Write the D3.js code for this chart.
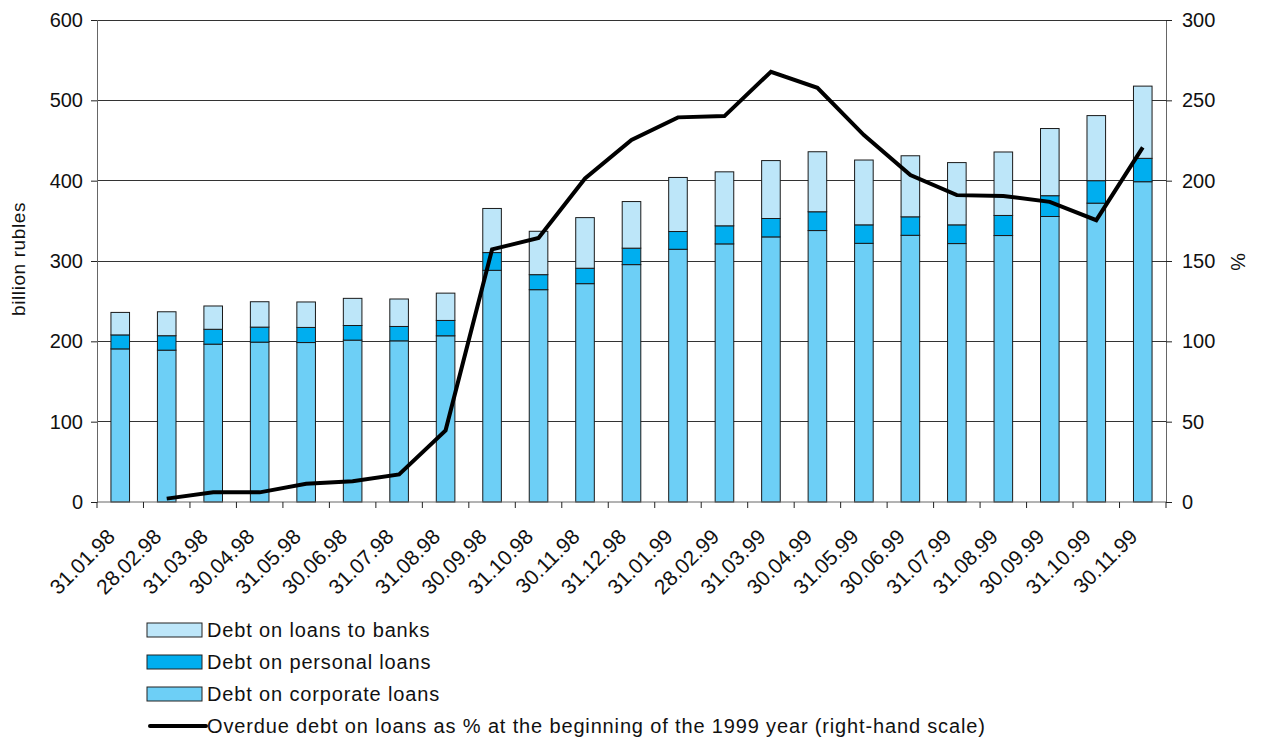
<!DOCTYPE html>
<html><head><meta charset="utf-8">
<script src="https://cdn.jsdelivr.net/npm/d3@7"></script>
<style>body{margin:0;background:#fff}svg{display:block;font-family:"Liberation Sans",Arial,sans-serif}</style>
</head><body><svg id="c" width="1262" height="740"></svg>
<script>
const categories = ["31.01.98","28.02.98","31.03.98","30.04.98","31.05.98","30.06.98","31.07.98","31.08.98","30.09.98","31.10.98","30.11.98","31.12.98","31.01.99","28.02.99","31.03.99","30.04.99","31.05.99","30.06.99","31.07.99","31.08.99","30.09.99","31.10.99","30.11.99"];
const corporate = [190.6,189,196.5,199,198.5,201.5,200.6,206.9,288.4,264.3,271.8,295.5,314.6,321.3,330,337.9,322,332,321.7,331.7,355.4,372,398.7];
const personal  = [17.4,18,18.5,18.7,18.8,18.2,17.9,19.1,22.1,18.7,19.2,20.5,22.1,22.5,22.9,23.4,23,23,23.3,25,25.9,28,29.1];
const banks     = [28,29.8,29,31.6,31.7,33.8,34.2,34,54.9,54,63,58,67.3,67.2,72.1,74.7,80.7,76,77.5,79,83.6,81,89.9];
const overdue   = [null,2.1,6.0,6.0,11.4,12.9,17.2,44.6,157.2,164.4,201.4,225.3,239.4,240.2,267.8,257.8,228.4,203.5,191,190.5,186.8,175.4,220.7];
const leftTicks = [0,100,200,300,400,500,600];
const rightTicks = [0,50,100,150,200,250,300];
const seriesNames = ["Debt on loans to banks","Debt on personal loans","Debt on corporate loans","Overdue debt on loans as % at the beginning of the 1999 year (right-hand scale)"];

const colors = {corporate:"#6dcff6", personal:"#00aeef", banks:"#bde6f9"};
const svg = d3.select("#c");
const L=97,R=1166,T=20,B=502;
const x = d3.scaleBand().domain(categories).range([L,R]).paddingInner(0.6).paddingOuter(0.3);
const yL = d3.scaleLinear().domain([0,600]).range([B,T]);
const yR = d3.scaleLinear().domain([0,300]).range([B,T]);

// gridlines
svg.append("g").selectAll("line").data(leftTicks.slice(1)).join("line")
  .attr("x1",L).attr("x2",R).attr("y1",d=>yL(d)).attr("y2",d=>yL(d))
  .attr("stroke","#333").attr("stroke-width",1).attr("shape-rendering","crispEdges");

// stacked bars
const rows = categories.map((c,i)=>({cat:c,corporate:corporate[i],personal:personal[i],banks:banks[i]}));
const stack = d3.stack().keys(["corporate","personal","banks"])(rows);
svg.append("g").selectAll("g").data(stack).join("g").attr("fill",d=>colors[d.key])
  .selectAll("rect").data(d=>d).join("rect")
  .attr("x",d=>x(d.data.cat)).attr("width",x.bandwidth())
  .attr("y",d=>yL(d[1])).attr("height",d=>yL(d[0])-yL(d[1]))
  .attr("stroke","#1a1a1a").attr("stroke-width",1);

// axes
const fs = "20px";
const gl = svg.append("g").attr("transform",`translate(${L},0)`)
  .call(d3.axisLeft(yL).tickValues(leftTicks).tickSize(6).tickPadding(8));
const gr = svg.append("g").attr("transform",`translate(${R},0)`)
  .call(d3.axisRight(yR).tickValues(rightTicks).tickSize(6).tickPadding(10));
[gl,gr].forEach(g=>{g.selectAll("text").attr("font-size",fs).attr("fill","#111").attr("font-family","Liberation Sans, Arial");
  g.select(".domain").attr("stroke","#666"); g.selectAll(".tick line").attr("stroke","#222");});

const boundaries = d3.range(categories.length+1).map(i=>L+ (R-L)*i/categories.length);
svg.append("line").attr("x1",L).attr("x2",R).attr("y1",B).attr("y2",B).attr("stroke","#666");
svg.append("g").selectAll("line").data(boundaries).join("line")
  .attr("x1",d=>d).attr("x2",d=>d).attr("y1",B).attr("y2",B+6).attr("stroke","#222");
svg.append("g").selectAll("text").data(categories).join("text")
  .attr("transform",d=>`translate(${x(d)+x.bandwidth()/2-4},${B+36}) rotate(-45)`)
  .attr("text-anchor","end").attr("font-size","21px").attr("fill","#111").text(d=>d);

// line
const line = d3.line().defined(d=>d.v!==null).x(d=>x(d.c)+x.bandwidth()/2).y(d=>yR(d.v));
svg.append("path").datum(categories.map((c,i)=>({c,v:overdue[i]})))
  .attr("d",line).attr("fill","none").attr("stroke","#000").attr("stroke-width",4).attr("stroke-linejoin","miter");

// axis titles
svg.append("text").attr("transform","translate(25,259) rotate(-90)").attr("text-anchor","middle")
  .attr("font-size","19px").attr("letter-spacing","0.6px").attr("fill","#111").text("billion rubles");
svg.append("text").attr("transform","translate(1231,262) rotate(90)").attr("text-anchor","middle")
  .attr("font-size","20px").attr("fill","#111").text("%");

// legend
const lg = svg.append("g");
const legFill = [colors.banks,colors.personal,colors.corporate];
seriesNames.forEach((n,i)=>{
  const cy = 630 + i*32;
  if(i<3){
    lg.append("rect").attr("x",147).attr("y",cy-7).attr("width",55).attr("height",14)
      .attr("fill",legFill[i]).attr("stroke","#222").attr("stroke-width",1);
  } else {
    lg.append("line").attr("x1",150).attr("x2",206).attr("y1",cy).attr("y2",cy)
      .attr("stroke","#000").attr("stroke-width",4).attr("stroke-linecap","round");
  }
  lg.append("text").attr("x",207).attr("y",cy).attr("dy","0.36em").attr("font-size","20px")
    .attr("letter-spacing","0.85px").attr("fill","#111").text(n);
});
</script></body></html>
